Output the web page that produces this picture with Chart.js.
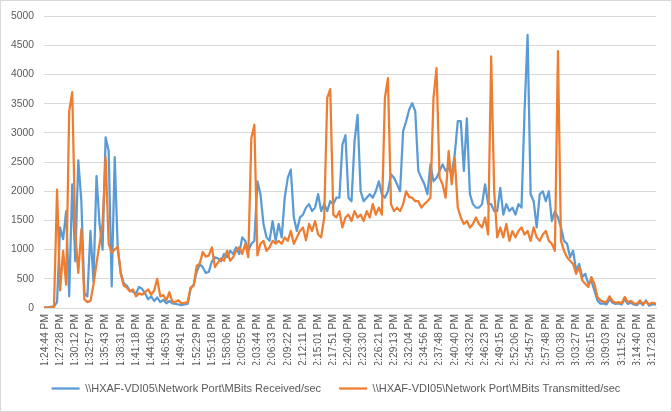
<!DOCTYPE html>
<html>
<head>
<meta charset="utf-8">
<script src="https://cdn.jsdelivr.net/npm/chart.js@4.4.1/dist/chart.umd.min.js"></script>
<style>
  html, body { margin: 0; padding: 0; background: #fff; }
  #wrap { width: 672px; height: 412px; }
</style>
</head>
<body>
<div id="wrap"><canvas id="chartCanvas" width="672" height="412"></canvas></div>
<script>
// axis labels, one every 5 samples
const timeLabels = [
  '1:24:44 PM', '1:27:28 PM', '1:30:12 PM', '1:32:57 PM', '1:35:43 PM', '1:38:31 PM',
  '1:41:18 PM', '1:44:06 PM', '1:46:53 PM', '1:49:41 PM', '1:52:29 PM', '1:55:18 PM',
  '1:58:06 PM', '2:00:55 PM', '2:03:44 PM', '2:06:33 PM', '2:09:22 PM', '2:12:11 PM',
  '2:15:01 PM', '2:17:51 PM', '2:20:40 PM', '2:23:30 PM', '2:26:21 PM', '2:29:13 PM',
  '2:32:04 PM', '2:34:56 PM', '2:37:48 PM', '2:40:40 PM', '2:43:32 PM', '2:46:23 PM',
  '2:49:15 PM', '2:52:06 PM', '2:54:57 PM', '2:57:48 PM', '3:00:38 PM', '3:03:27 PM',
  '3:06:15 PM', '3:09:03 PM', '3:11:52 PM', '3:14:40 PM', '3:17:28 PM'
];

const seriesNames = [
  '\\\\HXAF-VDI05\\Network Port\\MBits Received/sec',
  '\\\\HXAF-VDI05\\Network Port\\MBits Transmitted/sec'
];

// MBits Received/sec
const received = [
  10, 10, 20, 30, 100,      1380, 1180, 1660, 200, 2120,
  800, 2530, 1835, 250, 200, 1320, 450, 2260, 1440, 1000,
  2925, 2690, 370, 2585, 1000, 600, 420, 380, 300, 280,
  250, 360, 330, 250, 150,  200, 120, 180, 100, 140,
  80, 120, 80, 70, 60,      50, 60, 70, 330, 400,
  620, 750, 700, 600, 620,  800, 870, 850, 800, 925,
  870, 980, 925, 1040, 925, 1210, 1150, 980, 1100, 1150,
  2170, 1950, 1440, 1210, 1150, 1490, 1150, 1440, 1210, 1890,
  2230, 2370, 1550, 1320, 1550, 1600, 1720, 1780, 1660, 1720,
  1950, 1660, 1780, 1660, 1830, 1780, 1890, 1890, 2800, 2960,
  1890, 1830, 2860, 3310, 2000, 1830, 1890, 1950, 1890, 2000,
  2170, 1950, 1890, 2000, 2290, 2230, 2120, 2000, 3030, 3200,
  3400, 3510, 3370, 2350, 2230, 2120, 1950, 2460, 2170, 2230,
  2350, 2460, 2350, 2400, 2290, 2630, 3200, 3200, 2350, 3250,
  1950, 1780, 1720, 1720, 1780, 2120, 1780, 1780, 1660, 1660,
  2060, 1600, 1780, 1660, 1720, 1600, 1780, 1720, 3370, 4680,
  1950, 1830, 1380, 1950, 2000, 1830, 2000, 1490, 1660, 1550,
  1380, 1150, 1100, 870, 980, 640, 755, 530, 585, 415,
  470, 300, 130, 75, 80,    60, 150, 90, 70, 80,
  60, 150, 70, 90, 60,      50, 100, 50, 130, 40,
  60, 60
];

// MBits Transmitted/sec
const transmitted = [
  5, 5, 10, 20, 2030,       300, 980, 400, 3370, 3700,
  1300, 600, 1350, 150, 100, 120, 400, 760, 1100, 1450,
  2580, 1100, 950, 1000, 1050, 580, 380, 350, 280, 320,
  200, 250, 230, 270, 320,  230, 300, 500, 200, 220,
  130, 270, 100, 110, 130,  80, 90, 100, 350, 380,
  720, 760, 960, 880, 900,  1040, 700, 780, 850, 810,
  980, 810, 870, 980, 1040, 925, 1100, 870, 2910, 3140,
  900, 1100, 1150, 980, 1040, 1150, 1100, 1150, 1100, 1210,
  1150, 1320, 1100, 1210, 1320, 1380, 1160, 1440, 1320, 1490,
  1260, 1210, 1550, 3600, 3750, 1600, 1550, 1660, 1380, 1550,
  1600, 1490, 1660, 1550, 1600, 1490, 1660, 1550, 1780, 1600,
  1720, 1600, 3600, 3940, 1780, 1660, 1720, 1660, 1780, 2000,
  1900, 1890, 1830, 1830, 1720, 1780, 1830, 1890, 3600, 4110,
  2230, 2120, 1890, 2690, 2120, 2570, 1720, 1550, 1440, 1490,
  1380, 1440, 1550, 1440, 1380, 1550, 1260, 4310, 2000, 1210,
  1380, 1210, 1440, 1150, 1320, 1210, 1320, 1380, 1260, 1320,
  1150, 1380, 1210, 1150, 1260, 1320, 1150, 1100, 980, 4400,
  1150, 980, 870, 810, 755, 585, 700, 470, 415, 360,
  530, 415, 190, 130, 110,  100, 200, 120, 90, 100,
  80, 190, 100, 120, 80,    70, 130, 70, 110, 60,
  90, 80
];

const blue = '#5B9BD5';
const orange = '#ED7D31';
const textColor = '#595959';
const gridColor = '#d9d9d9';

const toPoints = arr => arr.map((v, i) => ({ x: i, y: v }));

// white background + thin outer frame like the Excel chart area
const framePlugin = {
  id: 'frame',
  beforeDraw(chart) {
    const ctx = chart.ctx;
    ctx.save();
    ctx.fillStyle = '#fff';
    ctx.fillRect(0, 0, chart.width, chart.height);
    ctx.strokeStyle = gridColor;
    ctx.lineWidth = 1;
    ctx.strokeRect(0.5, 0.5, chart.width - 1, chart.height - 1);
    ctx.restore();
  }
};

function lineDataset(label, values, color, order) {
  return {
    label: label,
    data: toPoints(values),
    borderColor: color,
    backgroundColor: color,
    borderWidth: 2.25,
    pointRadius: 0,
    pointBorderWidth: 2.25,
    pointBorderColor: color,
    tension: 0,
    borderJoinStyle: 'round',
    borderCapStyle: 'round',
    order: order
  };
}

const ctx = document.getElementById('chartCanvas').getContext('2d');
new Chart(ctx, {
  type: 'line',
  data: {
    datasets: [
      lineDataset(seriesNames[0], received, blue, 1),
      lineDataset(seriesNames[1], transmitted, orange, 0)  // drawn on top
    ]
  },
  options: {
    responsive: false,
    animation: false,
    layout: { padding: { top: 15, right: 0, bottom: 8, left: 0 } },
    plugins: {
      tooltip: { enabled: false },
      legend: {
        position: 'bottom',
        labels: {
          usePointStyle: true,
          pointStyle: 'line',
          pointStyleWidth: 28,
          padding: 18,
          color: textColor,
          font: { family: 'Liberation Sans', size: 11 },
          sort: (a, b) => a.datasetIndex - b.datasetIndex
        }
      }
    },
    scales: {
      x: {
        type: 'linear',
        min: -0.3,
        max: 201.3,
        grid: { display: false, drawTicks: false },
        border: { display: true, color: gridColor },
        ticks: {
          stepSize: 5,
          autoSkip: false,
          includeBounds: false,
          maxRotation: 90,
          minRotation: 90,
          padding: 6,
          color: textColor,
          font: { family: 'Liberation Sans', size: 10.3 },
          callback: v => (Number.isInteger(v / 5) && timeLabels[v / 5]) || ''
        },
        afterFit: s => { s.height = 57; }
      },
      y: {
        min: 0,
        max: 5000,
        grid: { color: gridColor, drawTicks: false },
        border: { display: false },
        ticks: {
          stepSize: 500,
          padding: 10,
          color: textColor,
          font: { family: 'Liberation Sans', size: 10.3 },
          callback: v => String(v)
        },
        afterFit: s => { s.width = 44; }
      },
      // empty right-hand spacer so the legend stays centred on the whole canvas
      spacer: {
        type: 'linear',
        position: 'right',
        grid: { display: false, drawTicks: false },
        border: { display: false },
        ticks: { display: false },
        afterFit: s => { s.width = 16; }
      }
    }
  },
  plugins: [framePlugin]
});
</script>
</body>
</html>
